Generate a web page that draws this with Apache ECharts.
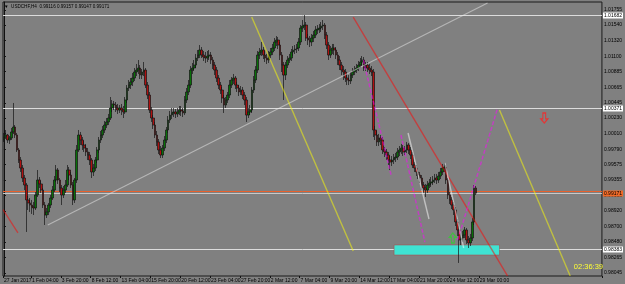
<!DOCTYPE html>
<html><head><meta charset="utf-8">
<script src="https://cdn.jsdelivr.net/npm/echarts@6/dist/echarts.min.js"></script>
<style>html,body{margin:0;padding:0;background:#808080}#c{width:625px;height:284px}</style>
</head><body><div id="c"></div><script>
// USDCHF H4 candles
const opens=[0.99920,0.99962,0.99990,0.99920,0.99948,1.00033,1.00103,0.99990,0.99779,0.99638,
0.99525,0.99384,0.99285,0.99074,0.99032,0.99003,0.98975,0.98961,0.99144,0.99356,
0.99300,0.99215,0.99003,0.98862,0.98905,0.99003,0.99102,0.99215,0.99356,0.99497,
0.99356,0.99243,0.99144,0.99215,0.99285,0.99497,0.99426,0.99285,0.99074,0.99356,
0.99779,0.99990,0.99920,0.99849,0.99807,0.99751,0.99708,0.99638,0.99469,0.99525,
0.99638,0.99779,0.99920,0.99990,1.00061,1.00131,1.00174,1.00230,1.00371,1.00428,
1.00413,1.00371,1.00343,1.00371,1.00343,1.00315,1.00484,1.00653,1.00695,1.00738,
1.00794,1.00879,1.00907,1.00935,1.00836,1.00879,1.00907,1.00695,1.00554,1.00343,
1.00230,1.00131,0.99990,0.99892,0.99779,0.99708,0.99807,0.99920,1.00061,1.00202,
1.00272,1.00301,1.00315,1.00287,1.00315,1.00343,1.00329,1.00301,1.00484,1.00597,
1.00695,1.00907,1.00935,1.00977,1.01076,1.01118,1.01189,1.01118,1.01090,1.01076,
1.01104,1.01118,1.01048,1.00977,1.00907,1.00794,1.00695,1.00625,1.00512,1.00413,
1.00484,1.00554,1.00695,1.00766,1.00794,1.00695,1.00653,1.00597,1.00625,1.00554,
1.00484,1.00272,1.00315,1.00343,1.00625,1.00766,1.00907,1.01118,1.01161,1.01189,
1.01118,1.01076,1.01048,1.01118,1.01161,1.01217,1.01302,1.01330,1.01259,1.01118,
1.00977,1.00836,1.00977,1.01048,1.01076,1.01161,1.01189,1.01203,1.01217,1.01302,
1.01499,1.01527,1.01541,1.01358,1.01330,1.01302,1.01358,1.01400,1.01471,1.01485,
1.01499,1.01527,1.01541,1.01400,1.01259,1.01118,1.01189,1.01217,1.01189,1.01118,
1.01048,1.00977,1.00907,1.00879,1.00794,1.00766,1.00752,1.00836,1.00879,1.00907,
1.00935,1.00977,1.01020,1.01048,1.00935,1.00977,1.00935,1.00907,1.00879,1.00061,
0.99990,0.99892,0.99948,0.99920,0.99779,0.99751,0.99708,0.99638,0.99610,0.99638,
0.99666,0.99680,0.99751,0.99779,0.99807,0.99751,0.99779,0.99849,0.99779,0.99708,
0.99567,0.99525,0.99469,0.99426,0.99384,0.99285,0.99243,0.99215,0.99285,0.99314,
0.99328,0.99356,0.99384,0.99356,0.99412,0.99469,0.99525,0.99539,0.99356,0.99144,
0.99074,0.99003,0.98933,0.98764,0.98651,0.98510,0.98538,0.98580,0.98651,0.98510,
0.98468,0.98538,0.98764,0.99243];
const closes=[0.99962,0.99990,0.99920,0.99948,1.00033,1.00103,0.99990,0.99779,0.99638,0.99525,
0.99384,0.99285,0.99074,0.99032,0.99003,0.98975,0.98961,0.99144,0.99356,0.99300,
0.99215,0.99003,0.98862,0.98905,0.99003,0.99102,0.99215,0.99356,0.99497,0.99356,
0.99243,0.99144,0.99215,0.99285,0.99497,0.99426,0.99285,0.99074,0.99356,0.99779,
0.99990,0.99920,0.99849,0.99807,0.99751,0.99708,0.99638,0.99469,0.99525,0.99638,
0.99779,0.99920,0.99990,1.00061,1.00131,1.00174,1.00230,1.00371,1.00428,1.00413,
1.00371,1.00343,1.00371,1.00343,1.00315,1.00484,1.00653,1.00695,1.00738,1.00794,
1.00879,1.00907,1.00935,1.00836,1.00879,1.00907,1.00695,1.00554,1.00343,1.00230,
1.00131,0.99990,0.99892,0.99779,0.99708,0.99807,0.99920,1.00061,1.00202,1.00272,
1.00301,1.00315,1.00287,1.00315,1.00343,1.00329,1.00301,1.00484,1.00597,1.00695,
1.00907,1.00935,1.00977,1.01076,1.01118,1.01189,1.01118,1.01090,1.01076,1.01104,
1.01118,1.01048,1.00977,1.00907,1.00794,1.00695,1.00625,1.00512,1.00413,1.00484,
1.00554,1.00695,1.00766,1.00794,1.00695,1.00653,1.00597,1.00625,1.00554,1.00484,
1.00272,1.00315,1.00343,1.00625,1.00766,1.00907,1.01118,1.01161,1.01189,1.01118,
1.01076,1.01048,1.01118,1.01161,1.01217,1.01302,1.01330,1.01259,1.01118,1.00977,
1.00836,1.00977,1.01048,1.01076,1.01161,1.01189,1.01203,1.01217,1.01302,1.01499,
1.01527,1.01541,1.01358,1.01330,1.01302,1.01358,1.01400,1.01471,1.01485,1.01499,
1.01527,1.01541,1.01400,1.01259,1.01118,1.01189,1.01217,1.01189,1.01118,1.01048,
1.00977,1.00907,1.00879,1.00794,1.00766,1.00752,1.00836,1.00879,1.00907,1.00935,
1.00977,1.01020,1.01048,1.00935,1.00977,1.00935,1.00907,1.00879,1.00061,0.99990,
0.99892,0.99948,0.99920,0.99779,0.99751,0.99708,0.99638,0.99610,0.99638,0.99666,
0.99680,0.99751,0.99779,0.99807,0.99751,0.99779,0.99849,0.99779,0.99708,0.99567,
0.99525,0.99469,0.99426,0.99384,0.99285,0.99243,0.99215,0.99285,0.99314,0.99328,
0.99356,0.99384,0.99356,0.99412,0.99469,0.99525,0.99539,0.99356,0.99144,0.99074,
0.99003,0.98933,0.98764,0.98651,0.98510,0.98538,0.98580,0.98651,0.98510,0.98468,
0.98538,0.98764,0.99243,0.99171];
const highs=[1.00019,1.00061,1.00005,0.99976,1.00089,1.00442,1.00131,1.00019,0.99807,0.99680,
0.99567,0.99426,0.99314,0.99130,0.99102,0.99074,0.99046,0.99187,0.99497,0.99398,
0.99342,0.99243,0.99046,0.98961,0.99032,0.99144,0.99271,0.99412,0.99567,0.99525,
0.99384,0.99285,0.99271,0.99356,0.99567,0.99539,0.99469,0.99328,0.99384,0.99849,
1.00061,1.00033,0.99962,0.99906,0.99864,0.99807,0.99751,0.99666,0.99582,0.99680,
0.99821,0.99962,1.00047,1.00117,1.00188,1.00230,1.00287,1.00526,1.00484,1.00470,
1.00456,1.00428,1.00413,1.00428,1.00399,1.00526,1.00695,1.00766,1.00794,1.00865,
1.00935,1.00992,1.01048,1.00977,1.00921,1.01020,1.00935,1.00738,1.00597,1.00385,
1.00272,1.00174,1.00047,0.99934,0.99835,0.99849,0.99976,1.00103,1.00258,1.00329,
1.00371,1.00371,1.00357,1.00371,1.00399,1.00399,1.00371,1.00540,1.00653,1.00766,
1.00963,1.01006,1.01048,1.01133,1.01189,1.01259,1.01231,1.01175,1.01161,1.01175,
1.01189,1.01161,1.01090,1.01020,1.00949,1.00836,1.00738,1.00667,1.00554,1.00526,
1.00597,1.00766,1.00808,1.00851,1.00822,1.00738,1.00695,1.00681,1.00667,1.00597,
1.00526,1.00371,1.00413,1.00667,1.00822,1.00963,1.01175,1.01217,1.01302,1.01231,
1.01175,1.01133,1.01175,1.01217,1.01274,1.01358,1.01386,1.01372,1.01302,1.01161,
1.01020,1.01020,1.01104,1.01133,1.01203,1.01245,1.01259,1.01274,1.01358,1.01541,
1.01612,1.01682,1.01584,1.01415,1.01386,1.01415,1.01457,1.01527,1.01541,1.01556,
1.01584,1.01612,1.01570,1.01443,1.01302,1.01245,1.01274,1.01274,1.01231,1.01161,
1.01104,1.01020,1.00963,1.00921,1.00851,1.00836,1.00879,1.00935,1.00963,1.00992,
1.01034,1.01076,1.01104,1.01090,1.01020,1.01020,1.00992,1.00963,1.00921,1.00117,
1.00047,1.00005,0.99990,0.99962,0.99821,0.99793,0.99751,0.99694,0.99694,0.99723,
0.99737,0.99807,0.99835,0.99864,0.99849,0.99835,0.99892,0.99878,0.99821,0.99751,
0.99610,0.99567,0.99511,0.99469,0.99426,0.99328,0.99300,0.99342,0.99370,0.99398,
0.99412,0.99441,0.99441,0.99469,0.99525,0.99582,0.99596,0.99567,0.99384,0.99187,
0.99116,0.99046,0.98975,0.98806,0.98707,0.98609,0.98637,0.98693,0.98679,0.98566,
0.98595,0.98820,0.99285,0.99271];
const lows=[0.99892,0.99934,0.99878,0.99864,0.99920,1.00005,0.99948,0.99751,0.99596,0.99469,
0.99328,0.99215,0.98623,0.98933,0.98905,0.98877,0.98862,0.98933,0.99116,0.99243,
0.99173,0.98961,0.98721,0.98820,0.98862,0.98961,0.99074,0.99187,0.99328,0.99300,
0.99187,0.99003,0.99102,0.99173,0.99257,0.99356,0.99243,0.99003,0.99032,0.99314,
0.99751,0.99849,0.99779,0.99751,0.99694,0.99638,0.99567,0.99384,0.99412,0.99483,
0.99596,0.99737,0.99878,0.99948,1.00019,1.00089,1.00131,1.00202,1.00315,1.00343,
1.00315,1.00287,1.00301,1.00272,1.00230,1.00287,1.00442,1.00611,1.00639,1.00681,
1.00752,1.00822,1.00851,1.00780,1.00780,1.00822,1.00653,1.00498,1.00301,1.00174,
1.00075,0.99948,0.99835,0.99723,0.99666,0.99666,0.99765,0.99878,1.00019,1.00160,
1.00216,1.00244,1.00230,1.00244,1.00272,1.00258,1.00244,1.00272,1.00442,1.00554,
1.00653,1.00851,1.00893,1.00935,1.01034,1.01076,1.01076,1.01034,1.01006,1.01020,
1.01048,1.00992,1.00921,1.00836,1.00738,1.00639,1.00569,1.00442,1.00301,1.00371,
1.00442,1.00512,1.00653,1.00710,1.00639,1.00597,1.00540,1.00554,1.00498,1.00413,
1.00174,1.00230,1.00272,1.00301,1.00583,1.00724,1.00865,1.01062,1.01104,1.01062,
1.01020,1.00992,1.01006,1.01076,1.01118,1.01175,1.01245,1.01203,1.01048,1.00879,
1.00484,1.00766,1.00935,1.01006,1.01034,1.01104,1.01133,1.01147,1.01175,1.01259,
1.01443,1.01471,1.01316,1.01259,1.01231,1.01245,1.01302,1.01358,1.01415,1.01429,
1.01443,1.01471,1.01344,1.01203,1.01048,1.01076,1.01133,1.01118,1.01062,1.00977,
1.00907,1.00836,1.00766,1.00738,1.00695,1.00695,1.00710,1.00794,1.00836,1.00865,
1.00893,1.00935,1.00963,1.00893,1.00893,1.00879,1.00851,1.00822,0.99962,0.99920,
0.99835,0.99835,0.99849,0.99723,0.99680,0.99638,0.99567,0.99497,0.99553,0.99582,
0.99610,0.99638,0.99694,0.99723,0.99694,0.99708,0.99737,0.99723,0.99652,0.99525,
0.99469,0.99412,0.99370,0.99314,0.99215,0.99173,0.99116,0.99173,0.99243,0.99257,
0.99285,0.99314,0.99300,0.99314,0.99370,0.99426,0.99469,0.99300,0.99088,0.99018,
0.98947,0.98862,0.98707,0.98566,0.98186,0.98439,0.98482,0.98538,0.98454,0.98397,
0.98425,0.98496,0.98721,0.99144];

const xTickLabels=["27 Jan 2017","1 Feb 04:00","3 Feb 20:00","8 Feb 12:00","13 Feb 04:00","15 Feb 20:00","20 Feb 12:00","23 Feb 04:00","27 Feb 20:00","2 Mar 12:00","7 Mar 04:00","9 Mar 20:00","14 Mar 12:00","17 Mar 04:00","21 Mar 20:00","24 Mar 12:00","29 Mar 00:00"];
const yTicks=[0.98045,0.98265,0.98480,0.98700,0.98920,0.99135,0.99355,0.99575,0.99790,1.00010,1.00230,1.00445,1.00665,1.00885,1.01100,1.01320,1.01540,1.01755];
const titleText="USDCHF,H4  0.99116 0.99157 0.99147 0.99171";
const timerText="02:36:39";

// drawn objects, in (bar index, price)
const hLevels=[1.01682,1.00371,0.99200,0.99171,0.98383];
const hColors=['#dcdcdc','#dcdcdc','#e8602c','#c8c8c8','#dcdcdc'];
const hLabelBg=['#ffffff','#ffffff',null,'#f06a28','#ffffff'];
const whiteRay=[[23.5,0.98722],[259.2,1.01852]];
const yellowLines=[[[132.8,1.01654],[187.2,0.98355]],[[265.6,1.00343],[303.5,0.98003]]];
const redLines=[[[187.2,1.01654],[269.9,0.98003]],[[-0.5,0.98939],[7.5,0.98609]]];
const magentaLines=[[[192.6,1.01048],[207.5,0.99426]],[[212.8,0.99990],[225.6,0.98482]],[[243.2,0.98510],[264.6,1.00371]]];
const whiteShort=[[[216.6,1.00019],[227.8,0.98806]],[[236.3,0.99596],[246.4,0.98397]]];
const supportZone=[209.1,0.98439,265.6,0.98298];
const upArrow=[240.6,0.98538];
const downArrow=[289.6,1.00230];

const N=321;
const slots=Array.from({length:N},(_,i)=>String(i));
const labelAt={0:0};
for(let k=1;k<xTickLabels.length;k++) labelAt[16*k-1]=k;
const showAt=(i)=>labelAt[i]!==undefined;

const lineData=[];
const addL=(seg,color,width,type)=>lineData.push({coords:seg,lineStyle:{color:color,width:width,type:type||'solid',dashOffset:0}});
addL(whiteRay,'#ececec',1.1);
yellowLines.forEach(s=>addL(s,'#ffff00',1.4));
redLines.forEach(s=>addL(s,'#ff0000',1.4));
magentaLines.forEach(s=>addL(s,'#ff00ff',1.5,[4,2]));
whiteShort.forEach(s=>addL(s,'#ffffff',1.4));

const arrowPath='path://M5,0 L10,5 L7,5 L7,12 L3,12 L3,5 L0,5 Z';
const font='Liberation Sans';

const chart=echarts.init(document.getElementById('c'));
chart.setOption({
  animation:false,
  backgroundColor:'#808080',
  grid:{left:3,right:20,top:2,bottom:8,show:true,borderColor:'#1a1a1a',borderWidth:1},
  xAxis:[{type:'category',data:slots,boundaryGap:true,
    axisLine:{show:false},
    axisTick:{show:true,interval:showAt,length:2,lineStyle:{color:'#111'}},
    axisLabel:{interval:showAt,formatter:(v,i)=>xTickLabels[labelAt[i]]||'',align:'left',fontSize:5,color:'#000',margin:2,fontFamily:font},
    splitLine:{show:false}},
    {type:'value',min:-0.5,max:N-0.5,show:false}],
  yAxis:{type:'value',position:'right',min:0.98002,max:1.01866,
    axisLine:{show:true,lineStyle:{color:'#111'}},
    axisTick:{show:true,customValues:yTicks,length:2,lineStyle:{color:'#111'}},
    axisLabel:{customValues:yTicks,formatter:v=>v.toFixed(5),fontSize:5,color:'#000',margin:2,fontFamily:font},
    splitLine:{show:false}},
  graphic:[
    {type:'text',left:4,top:4,style:{text:'\u25BC  '+titleText,fontSize:4.6,fill:'#000',fontFamily:font}},
    {type:'text',right:22,top:263,style:{text:timerText,fontSize:7.5,fill:'#ffff33',fontFamily:font}}
  ],
  series:[
    {type:'custom',xAxisIndex:1,z:1,silent:true,data:hLevels.map(v=>[v]),
      renderItem:(p,api)=>{const v=api.value(0),i=p.dataIndex;
        const a=api.coord([-0.5,v]),b=api.coord([N-0.5,v]);const y=Math.round(a[1])+0.5;
        const ch=[{type:'line',shape:{x1:a[0],y1:y,x2:b[0],y2:y},style:{stroke:hColors[i],lineWidth:1}}];
        if(hLabelBg[i]) ch.push({type:'text',x:b[0]+1,y:y,style:{text:v.toFixed(5),fill:'#000',fontSize:5,fontFamily:font,verticalAlign:'middle',backgroundColor:hLabelBg[i],padding:[1,1,0,1]}});
        return {type:'group',children:ch};}},
    {type:'custom',xAxisIndex:1,z:2,silent:true,data:[supportZone],
      renderItem:(p,api)=>{const a=api.coord([api.value(0),api.value(1)]),b=api.coord([api.value(2),api.value(3)]);
        return {type:'rect',shape:{x:a[0],y:a[1],width:b[0]-a[0],height:b[1]-a[1]},style:{fill:'#3fe3d3',stroke:'#b04040',lineWidth:0.5}};}},
    {type:'candlestick',z:3,barWidth:2.2,
      data:opens.map((o,i)=>[o,closes[i],lows[i],highs[i]]),
      itemStyle:{color:'#087008',color0:'#b01010',borderColor:'#141414',borderColor0:'#141414',borderWidth:0.7}},
    {type:'lines',coordinateSystem:'cartesian2d',xAxisIndex:1,z:4,silent:true,polyline:false,data:lineData},
    {type:'scatter',xAxisIndex:1,z:5,silent:true,symbol:arrowPath,symbolSize:[7,10],data:[upArrow],
      itemStyle:{color:'rgba(0,0,0,0)',borderColor:'#30d030',borderWidth:1.2}},
    {type:'scatter',xAxisIndex:1,z:5,silent:true,symbol:arrowPath,symbolSize:[7,10],symbolRotate:180,data:[downArrow],
      itemStyle:{color:'rgba(0,0,0,0)',borderColor:'#ff2020',borderWidth:1.2}}
  ]
});
</script></body></html>
